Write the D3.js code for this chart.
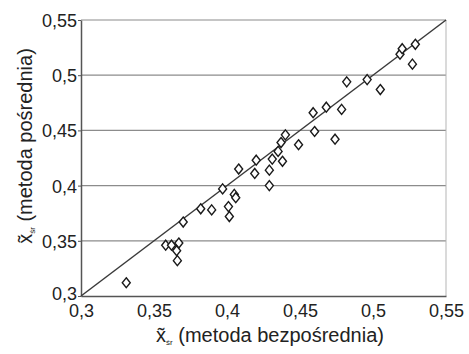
<!DOCTYPE html>
<html>
<head>
<meta charset="utf-8">
<script src="https://cdn.jsdelivr.net/npm/d3@7"></script>
<style>
  body { margin: 0; background: #fff; }
  text { font-family: "Liberation Sans", Arial, sans-serif; fill: #222; }
</style>
</head>
<body>
<svg id="chart" width="469" height="354"></svg>
<script>
// x: metoda bezpośrednia, y: metoda pośrednia
const xValues = [0.331, 0.358, 0.362, 0.367, 0.3655, 0.366, 0.370, 0.382, 0.3895, 0.397,
  0.401, 0.4016, 0.405, 0.406, 0.408, 0.419, 0.420, 0.429, 0.429, 0.431,
  0.435, 0.437, 0.438, 0.440, 0.449, 0.460, 0.459, 0.468, 0.474, 0.4785,
  0.482, 0.496, 0.505, 0.5185, 0.520, 0.527, 0.529];
const yValues = [0.312, 0.346, 0.346, 0.348, 0.341, 0.332, 0.367, 0.379, 0.378, 0.397,
  0.381, 0.372, 0.392, 0.389, 0.415, 0.411, 0.423, 0.400, 0.414, 0.424,
  0.431, 0.439, 0.422, 0.446, 0.437, 0.449, 0.466, 0.471, 0.442, 0.469,
  0.494, 0.496, 0.487, 0.519, 0.524, 0.510, 0.528];
const tickValues = [0.3, 0.35, 0.4, 0.45, 0.5, 0.55];
const xTitle = "(metoda bezpośrednia)";
const yTitle = "(metoda pośrednia)";

const svg = d3.select("#chart");
const plotLeft = 81, plotRight = 446, plotTop = 20, plotBottom = 296;

const x = d3.scaleLinear().domain([0.3, 0.55]).range([plotLeft, plotRight]);
const y = d3.scaleLinear().domain([0.3, 0.55]).range([plotBottom, plotTop]);
const fmt = (d) => String(+d.toFixed(2)).replace(".", ",");

// gridlines
svg.append("g")
  .selectAll("line")
  .data(tickValues.slice(1))
  .enter()
  .append("line")
  .attr("x1", plotLeft)
  .attr("x2", plotRight)
  .attr("y1", (d) => y(d))
  .attr("y2", (d) => y(d))
  .attr("stroke", "#8c8c8c")
  .attr("stroke-width", 1.2);

// right frame
svg.append("line")
  .attr("x1", plotRight).attr("x2", plotRight)
  .attr("y1", plotTop).attr("y2", plotBottom)
  .attr("stroke", "#b5b5b5")
  .attr("stroke-width", 1);

// axes
const xAxis = svg.append("g")
  .attr("transform", `translate(0,${plotBottom})`)
  .call(d3.axisBottom(x).tickValues(tickValues).tickSize(0).tickSizeOuter(0).tickPadding(8).tickFormat(fmt));
const yAxis = svg.append("g")
  .attr("transform", `translate(${plotLeft},0)`)
  .call(d3.axisLeft(y).tickValues(tickValues).tickSize(3).tickSizeOuter(0).tickPadding(1).tickFormat(fmt));

[xAxis, yAxis].forEach((g) => {
  g.select(".domain").attr("stroke", "#555").attr("stroke-width", 1.5);
  g.selectAll(".tick line").attr("stroke", "#555");
  g.selectAll("text")
    .style("font-family", '"Liberation Sans", Arial, sans-serif')
    .style("font-size", "18px")
    .attr("fill", "#222");
});
xAxis.selectAll("text").attr("dy", "0.7em");
yAxis.selectAll("text").attr("dy", (d) => (d === 0.3 ? "0.2em" : "0.36em"));

// diagonal y = x
svg.append("line")
  .attr("x1", x(0.3)).attr("y1", y(0.3))
  .attr("x2", x(0.55)).attr("y2", y(0.55))
  .attr("stroke", "#3a3a3a")
  .attr("stroke-width", 1.5);

// points as diamonds
const pts = xValues.map((v, i) => ({ x: v, y: yValues[i] }));
svg.append("g")
  .selectAll("path")
  .data(pts)
  .enter()
  .append("path")
  .attr("d", (d) => {
    const cx = x(d.x), cy = y(d.y);
    return `M${cx},${cy - 5}L${cx + 4},${cy}L${cx},${cy + 5}L${cx - 4},${cy}Z`;
  })
  .attr("fill", "#fff")
  .attr("stroke", "#1a1a1a")
  .attr("stroke-width", 1.4);

// axis titles
const xt = svg.append("text")
  .attr("x", 270)
  .attr("y", 342)
  .attr("text-anchor", "middle")
  .style("font-size", "20px");
xt.append("tspan").text("x\u0303");
xt.append("tspan").attr("dy", 3).style("font-size", "8px").text("śr");
xt.append("tspan").attr("dy", -3).text(" " + xTitle);

const yt = svg.append("text")
  .attr("transform", "translate(32,146) rotate(-90)")
  .attr("text-anchor", "middle")
  .style("font-size", "20px");
yt.append("tspan").text("x\u0303");
yt.append("tspan").attr("dy", 3).style("font-size", "8px").text("śr");
yt.append("tspan").attr("dy", -3).text(" " + yTitle);
</script>
</body>
</html>
